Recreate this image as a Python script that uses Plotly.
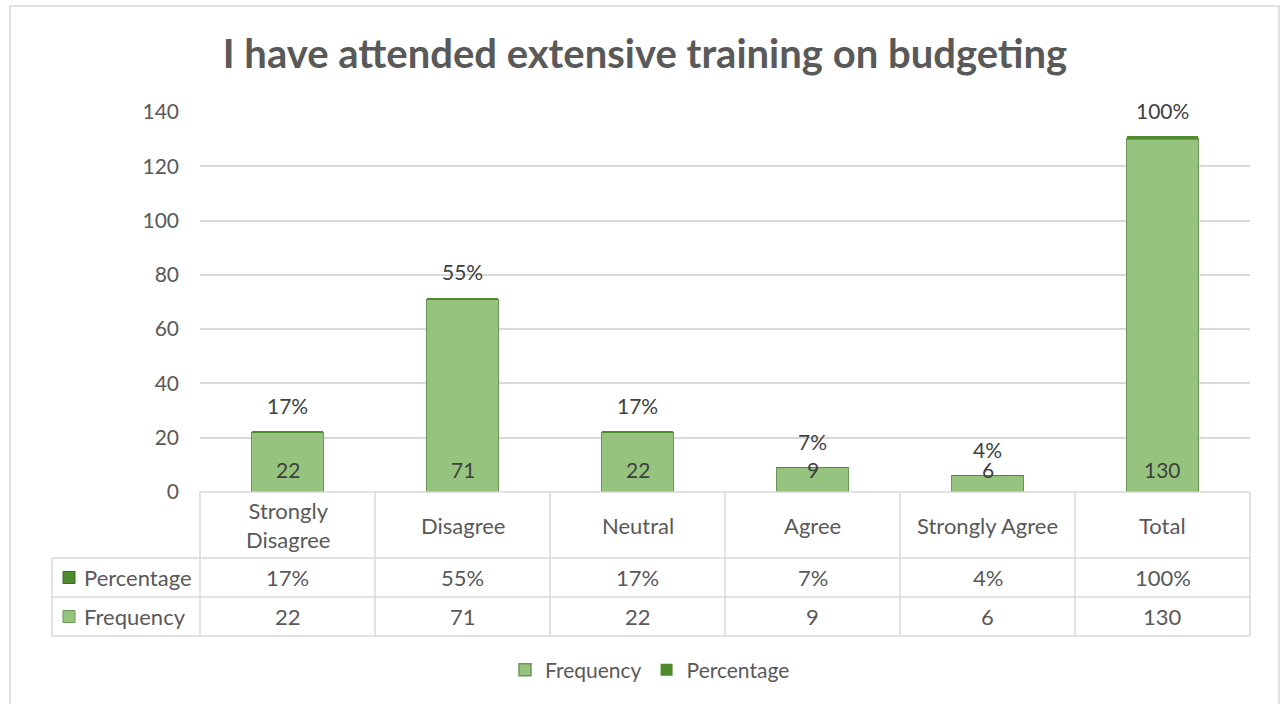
import plotly.graph_objects as go

# Survey responses
categories = ["Strongly Disagree", "Disagree", "Neutral", "Agree", "Strongly Agree", "Total"]
header_labels = ["Strongly<br>Disagree", "Disagree", "Neutral", "Agree", "Strongly Agree", "Total"]
frequency = [22, 71, 22, 9, 6, 130]
percentage = [17, 55, 17, 7, 4, 100]
y_ticks = [0, 20, 40, 60, 80, 100, 120, 140]

FONT = "Lato"
TEXT = "#595959"
LABEL = "#404040"
FREQ_COLOR = "#96c47f"
FREQ_LINE = "#6b9656"
PCT_COLOR = "#4e8a2e"
GRID = "#d9d9d9"

W, H = 1280, 704
L, R, T, B = 200, 30, 112, 212
PLOT_W = W - L - R
PLOT_H = H - T - B


def px(x):
    return (x - L) / PLOT_W


def py(y):
    return (H - B - y) / PLOT_H


xs = list(range(len(categories)))
pct_frac = [p / 100 for p in percentage]

fig = go.Figure()
fig.add_trace(go.Bar(
    x=xs, y=frequency, name="Frequency", width=0.41,
    marker=dict(color=FREQ_COLOR, line=dict(color=FREQ_LINE, width=1.5)),
    hoverinfo="skip",
))
fig.add_trace(go.Bar(
    x=xs, y=pct_frac, name="Percentage", width=0.41,
    marker=dict(color=PCT_COLOR, line=dict(color=PCT_COLOR, width=0)),
    hoverinfo="skip",
))

annotations = []
# data labels: frequency at bar base, percentage above the bar
for i, (f, p) in enumerate(zip(frequency, percentage)):
    annotations.append(dict(x=i, y=0, xref="x", yref="y", text=str(f), showarrow=False,
                            yanchor="middle", yshift=23,
                            font=dict(family=FONT, size=21, color=LABEL)))
    annotations.append(dict(x=i, y=f + p / 100, xref="x", yref="y", text=f"{p}%",
                            showarrow=False, yanchor="middle", yshift=26,
                            font=dict(family=FONT, size=21, color=LABEL)))

# data table below the axis
col_w = PLOT_W / len(categories)
row_hdr = (492, 558)
row_pct = (558, 597)
row_freq = (597, 636)
table_left = 52

for i, (hdr, f, p) in enumerate(zip(header_labels, frequency, percentage)):
    cx = px(L + col_w * (i + 0.5))
    annotations.append(dict(x=cx, y=py(sum(row_hdr) / 2), xref="paper", yref="paper",
                            text=hdr, showarrow=False, xanchor="center", yanchor="middle",
                            font=dict(family=FONT, size=22, color=TEXT)))
    annotations.append(dict(x=cx, y=py(sum(row_pct) / 2), xref="paper", yref="paper",
                            text=f"{p}%", showarrow=False, xanchor="center", yanchor="middle",
                            font=dict(family=FONT, size=22, color=TEXT)))
    annotations.append(dict(x=cx, y=py(sum(row_freq) / 2), xref="paper", yref="paper",
                            text=str(f), showarrow=False, xanchor="center", yanchor="middle",
                            font=dict(family=FONT, size=22, color=TEXT)))

for name, (y0, y1) in [("Percentage", row_pct), ("Frequency", row_freq)]:
    annotations.append(dict(x=px(82), y=py((y0 + y1) / 2), xref="paper", yref="paper",
                            text=name, showarrow=False, xanchor="left", yanchor="middle",
                            font=dict(family=FONT, size=22, color=TEXT)))

shapes = []
line = dict(color=GRID, width=1.5)
# horizontal table rules
shapes.append(dict(type="line", xref="paper", yref="paper", x0=px(L), x1=px(W - R),
                   y0=py(row_hdr[0]), y1=py(row_hdr[0]), line=line))
for yy in (row_hdr[1], row_pct[1], row_freq[1]):
    shapes.append(dict(type="line", xref="paper", yref="paper", x0=px(table_left), x1=px(W - R),
                       y0=py(yy), y1=py(yy), line=line))
# vertical table rules
shapes.append(dict(type="line", xref="paper", yref="paper", x0=px(table_left), x1=px(table_left),
                   y0=py(row_pct[0]), y1=py(row_freq[1]), line=line))
for k in range(len(categories) + 1):
    xx = px(L + col_w * k)
    shapes.append(dict(type="line", xref="paper", yref="paper", x0=xx, x1=xx,
                       y0=py(row_hdr[0]), y1=py(row_freq[1]), line=line))
# legend keys in the table rows
for color, edge, (y0, y1) in [(PCT_COLOR, "#3b6e22", row_pct), (FREQ_COLOR, FREQ_LINE, row_freq)]:
    cy = (y0 + y1) / 2
    shapes.append(dict(type="rect", xref="paper", yref="paper",
                       x0=px(63), x1=px(75), y0=py(cy + 6), y1=py(cy - 6),
                       fillcolor=color, line=dict(color=edge, width=1)))
# chart frame
shapes.append(dict(type="rect", xref="paper", yref="paper",
                   x0=px(10), x1=px(1279), y0=py(6), y1=py(720),
                   line=dict(color=GRID, width=1.5), fillcolor="rgba(0,0,0,0)", layer="below"))

fig.update_layout(
    width=W, height=H,
    margin=dict(l=L, r=R, t=T, b=B),
    paper_bgcolor="white", plot_bgcolor="white",
    barmode="stack",
    title=dict(text="<b>I have attended extensive training on budgeting</b>",
               x=px(645), xref="paper", xanchor="center",
               y=1 - 54 / H, yref="container", yanchor="middle",
               font=dict(family=FONT, size=40, color=TEXT)),
    xaxis=dict(range=[-0.5, len(categories) - 0.5], showticklabels=False, showgrid=False,
               zeroline=False, showline=False, fixedrange=True),
    yaxis=dict(range=[0, 140], tickvals=y_ticks, showgrid=True, gridcolor=GRID, gridwidth=1.5,
               zeroline=False, showline=False, ticks="", ticklabelstandoff=20,
               tickfont=dict(family=FONT, size=21, color=TEXT), fixedrange=True),
    legend=dict(orientation="h", x=px(650), xanchor="center", y=py(670), yanchor="middle",
                font=dict(family=FONT, size=21, color=TEXT), traceorder="normal",
                itemwidth=30),
    annotations=annotations,
    shapes=shapes,
    showlegend=True,
)

fig.write_html("out.html")
